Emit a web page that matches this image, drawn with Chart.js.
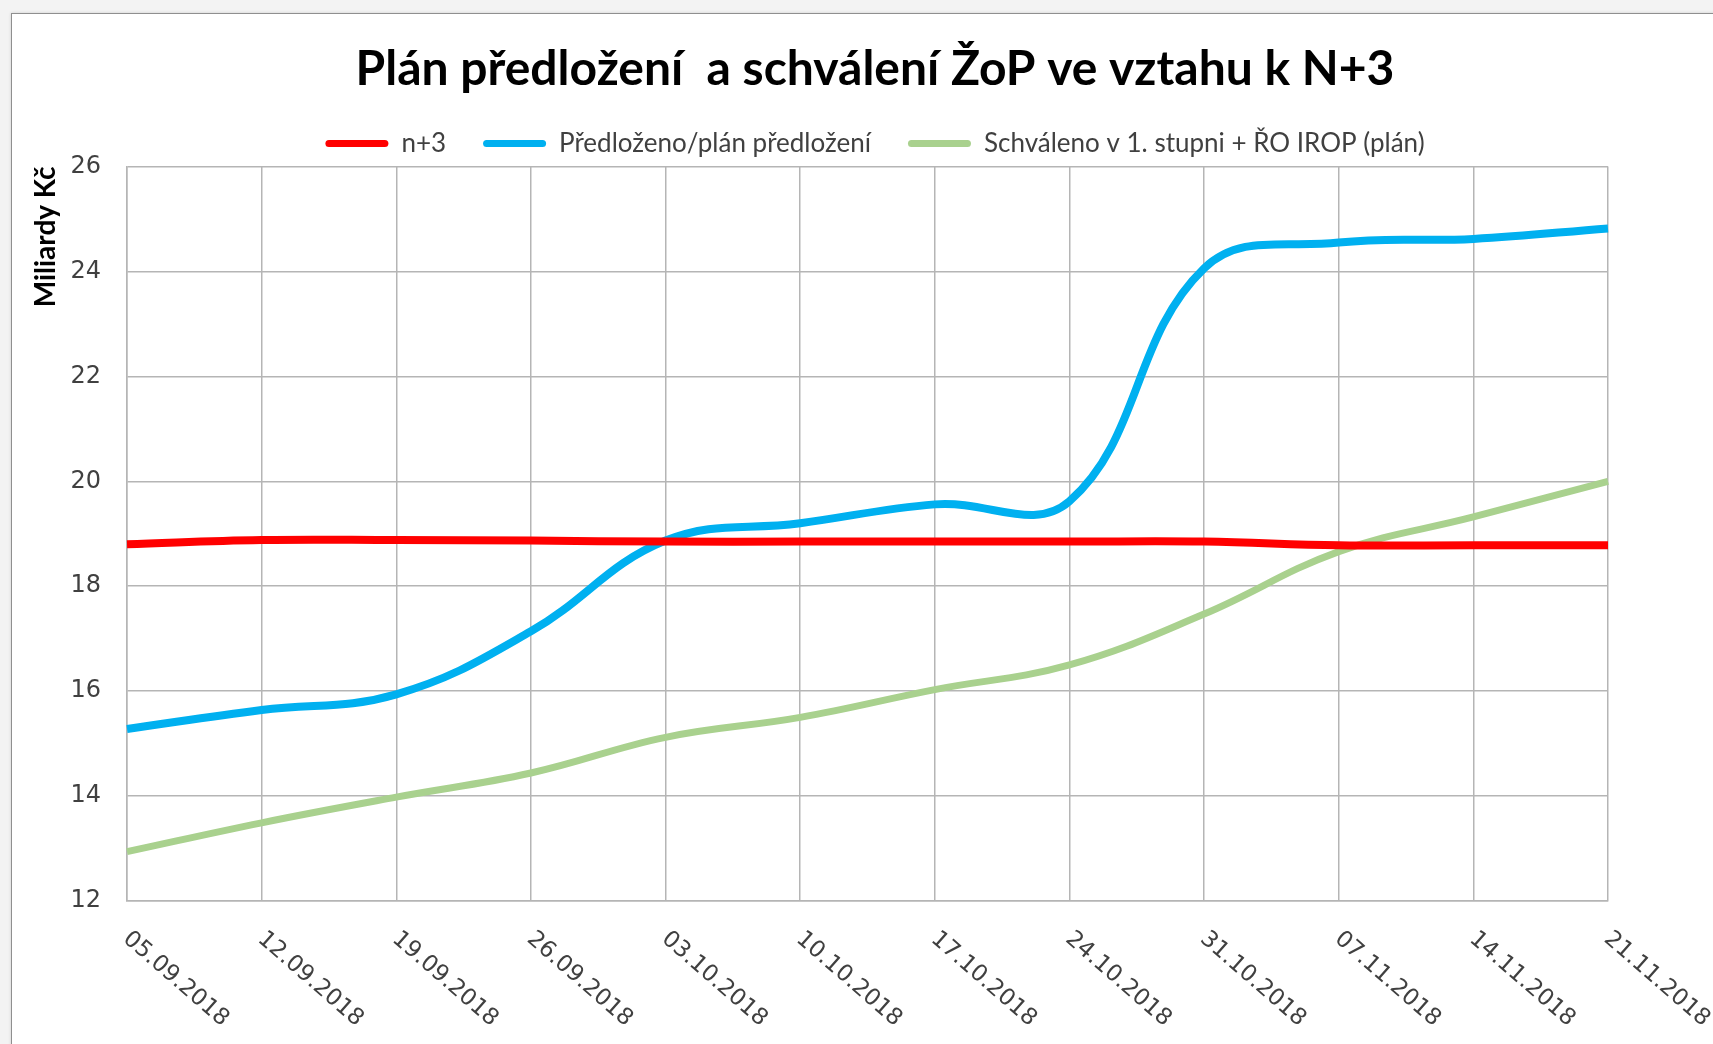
<!DOCTYPE html>
<html>
<head>
<meta charset="utf-8">
<script src="https://cdn.jsdelivr.net/npm/chart.js@4/dist/chart.umd.min.js"></script>
<style>
  html, body { margin: 0; padding: 0; }
  body { width: 1713px; height: 1044px; overflow: hidden; background: #f3f3f3; position: relative; }
  #card { position: absolute; left: 11px; top: 13px; width: 1760px; height: 1100px;
          background: #fff; border: 1px solid #8f8f8f; box-shadow: 0 0 3px rgba(0,0,0,0.15); }
  #wrap { position: absolute; left: 12px; top: 14px; width: 1726px; height: 1030px; }
</style>
</head>
<body>
<div id="card"></div>
<div id="wrap"><canvas id="chart"></canvas></div>
<script>
'use strict';

// chart data
var TITLE    = 'Plán předložení  a schválení ŽoP ve vztahu k N+3';
var Y_TITLE  = 'Miliardy Kč';
var DATES    = ['05.09.2018', '12.09.2018', '19.09.2018', '26.09.2018', '03.10.2018', '10.10.2018',
                '17.10.2018', '24.10.2018', '31.10.2018', '07.11.2018', '14.11.2018', '21.11.2018'];
var N3       = [18.80, 18.88, 18.88, 18.87, 18.85, 18.85, 18.85, 18.85, 18.85, 18.78, 18.78, 18.78];
var PREDLOZ  = [15.28, 15.64, 15.94, 17.14, 18.87, 19.20, 19.56, 19.62, 24.06, 24.55, 24.62, 24.82];
var SCHVAL   = [12.94, 13.49, 13.98, 14.44, 15.12, 15.50, 16.03, 16.50, 17.47, 18.66, 19.32, 20.00];
var Y_MIN = 12, Y_MAX = 26, Y_STEP = 2;

var GRID = '#b5b5b5';

/* x labels are drawn slanted down-right from the tick, which the
   built-in tick renderer can't do, so draw them here */
var slantedLabels = {
  id: 'slantedLabels',
  afterDraw: function (chart) {
    var ctx = chart.ctx, xs = chart.scales.x, area = chart.chartArea;
    ctx.save();
    ctx.font = '23px "DejaVu Sans", Verdana, sans-serif';
    ctx.fillStyle = '#404040';
    ctx.textAlign = 'left';
    ctx.textBaseline = 'middle';
    DATES.forEach(function (d, i) {
      var x = xs.getPixelForTick(i);
      ctx.save();
      ctx.translate(x - 1, area.bottom + 35);
      ctx.rotate(41 * Math.PI / 180);
      ctx.fillText(d, 0, 0);
      ctx.restore();
    });
    ctx.restore();
  }
};

function line(label, data, color, width) {
  return {
    label: label, data: data, yAxisID: 'y',
    borderColor: color, backgroundColor: color,
    borderWidth: width, pointRadius: 0, pointHoverRadius: 0,
    tension: 0.4, fill: false
  };
}

new Chart(document.getElementById('chart'), {
  type: 'line',
  data: {
    labels: DATES,
    datasets: [
      line('n+3', N3, '#ff0000', 8),
      line('Předloženo/plán předložení', PREDLOZ, '#00b0f0', 8),
      line('Schváleno v 1. stupni + ŘO IROP (plán)', SCHVAL, '#a9d18e', 7)
    ]
  },
  options: {
    responsive: true, maintainAspectRatio: false, animation: false,
    layout: { padding: 0 },
    plugins: {
      title: {
        display: true, text: TITLE, color: '#000',
        font: { family: 'Lato', weight: 'bold', size: 48, lineHeight: 1 },
        padding: { top: 31.5, bottom: 0 }
      },
      legend: {
        position: 'top',
        labels: {
          color: '#404040',
          font: { family: 'Lato', size: 26 },
          boxWidth: 63, boxHeight: 7, padding: 37,
          useBorderRadius: true, borderRadius: 3.5,
          generateLabels: function (chart) {
            var items = Chart.defaults.plugins.legend.labels.generateLabels(chart);
            items.forEach(function (it) { it.fillStyle = it.strokeStyle; it.lineWidth = 0; });
            return items;
          }
        }
      },
      tooltip: { enabled: false }
    },
    scales: {
      x: {
        grid: { color: GRID, lineWidth: 1.5, drawTicks: false },
        border: { color: GRID, width: 1.5 },
        ticks: { display: false },
        afterFit: function (s) { s.height = 143; }
      },
      y: {
        min: Y_MIN, max: Y_MAX,
        grid: { color: GRID, lineWidth: 1.5, drawTicks: false },
        border: { color: GRID, width: 1.5 },
        ticks: {
          stepSize: Y_STEP, padding: 26, color: '#404040',
          font: { family: '"DejaVu Sans", Verdana, sans-serif', size: 24 }
        },
        title: {
          display: true, text: Y_TITLE, align: 'end', color: '#000',
          font: { family: 'Lato', weight: 'bold', size: 28 },
          padding: { top: 17, bottom: 0 }
        },
        afterFit: function (s) { s.width = 115; }
      },
      // empty right-hand margin so title and legend stay centred on the whole card
      yr: {
        position: 'right', display: true,
        grid: { display: false }, border: { display: false }, ticks: { display: false },
        afterFit: function (s) { s.width = 130; }
      }
    }
  },
  plugins: [slantedLabels]
});
</script>
</body>
</html>
